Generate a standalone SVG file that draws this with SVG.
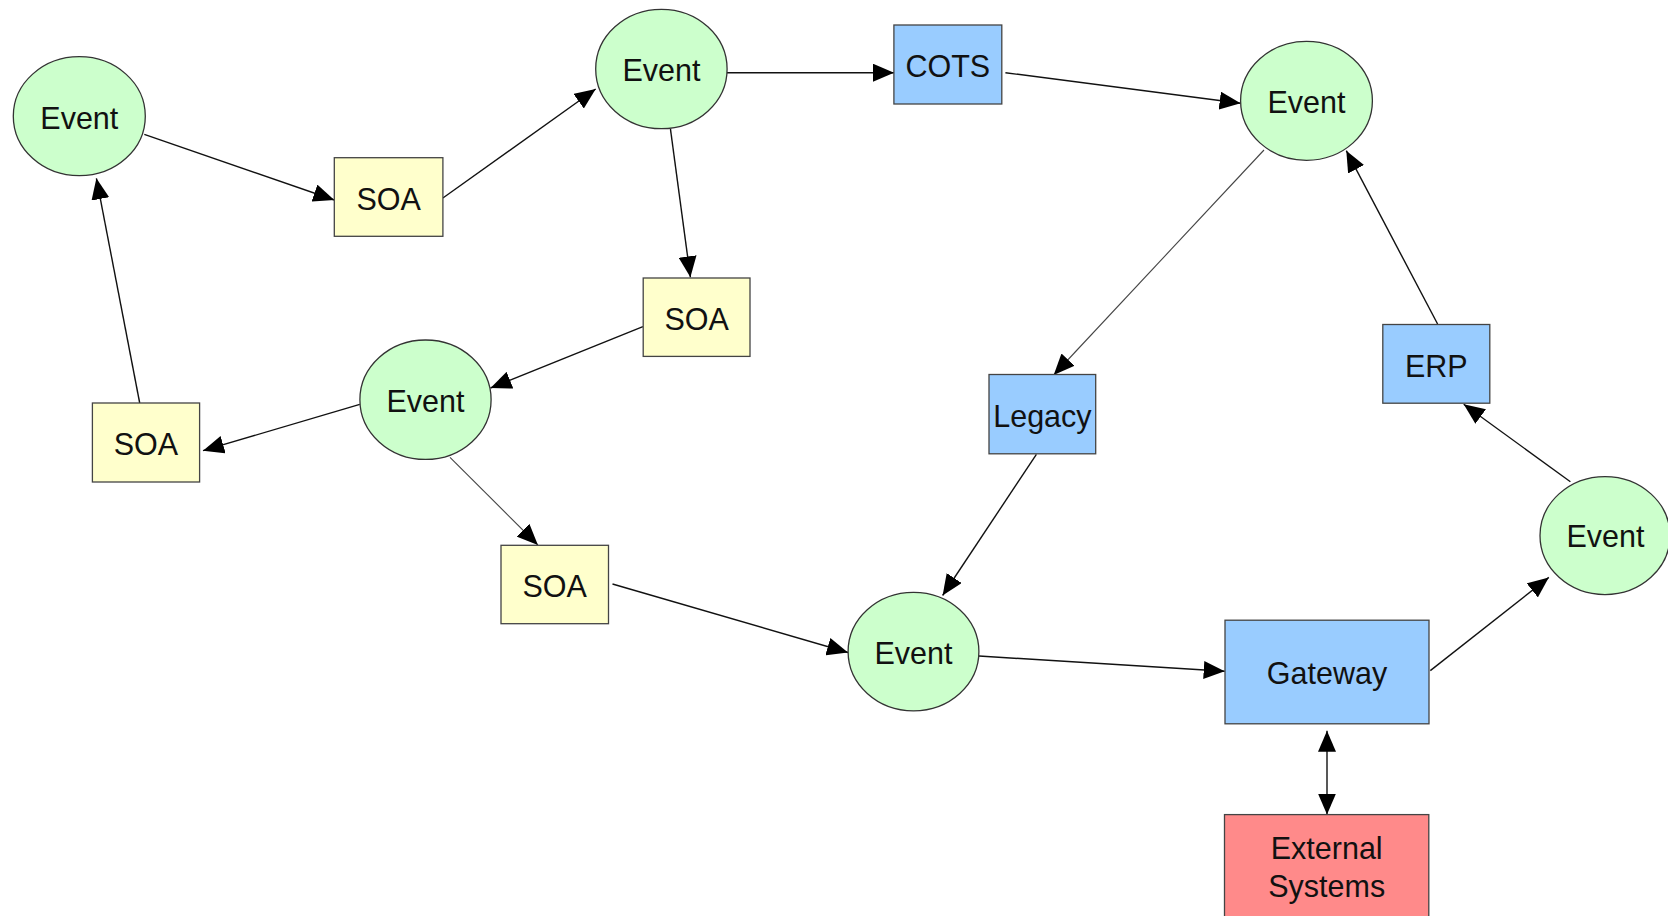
<svg xmlns="http://www.w3.org/2000/svg" width="1668" height="916" viewBox="0 0 1668 916">
<style>
.ev{fill:#ccffcc;stroke:#333;stroke-width:1.3}
.soa{fill:#ffffcc;stroke:#444;stroke-width:1.3}
.sys{fill:#99ccff;stroke:#444;stroke-width:1.3}
.ext{fill:#ff8a8a;stroke:#444;stroke-width:1.3}
text{font-family:"Liberation Sans",Arial,sans-serif;font-size:30.5px;fill:#111;text-anchor:middle}
.c line{stroke:#111;stroke-width:1.4;marker-end:url(#ah)}
.c line.thin{stroke:#444;stroke-width:1.1}
</style>
<defs>
<marker id="ah" markerUnits="userSpaceOnUse" markerWidth="21" markerHeight="18" refX="21" refY="9" orient="auto-start-reverse">
<path d="M0,0 L21,9 L0,18 z" fill="#000"/>
</marker>
</defs>
<rect width="1668" height="916" fill="#fff"/>
<g class="c" id="connectors">
<line x1="144.3" y1="134.3" x2="334.3" y2="200"/>
<line x1="442.9" y1="198" x2="595.7" y2="89"/>
<line x1="727" y1="72.7" x2="894" y2="72.7"/>
<line x1="1005.4" y1="72.7" x2="1240.6" y2="103.3"/>
<line x1="670.4" y1="128.7" x2="690.4" y2="277.3"/>
<line x1="642.9" y1="326.7" x2="490.5" y2="388"/>
<line x1="359.8" y1="404.3" x2="203" y2="450.7"/>
<line x1="139.7" y1="403" x2="96.4" y2="178.3"/>
<line class="thin" x1="450" y1="457.3" x2="537.9" y2="545"/>
<line x1="612.5" y1="584" x2="848" y2="652.5"/>
<line class="thin" x1="1264" y1="150" x2="1053.7" y2="375"/>
<line x1="1036.4" y1="454.3" x2="942.6" y2="595.5"/>
<line x1="979" y1="656" x2="1224.7" y2="671.3"/>
<line x1="1430.3" y1="670.6" x2="1548.8" y2="577.4"/>
<line x1="1570.4" y1="481.8" x2="1463.7" y2="404.2"/>
<line x1="1437.6" y1="324" x2="1346.3" y2="150.7"/>
<line x1="1327" y1="730.8" x2="1327" y2="814.6" marker-start="url(#ah)"/>
</g>
<g id="event1"><ellipse class="ev" cx="79.3" cy="116.2" rx="66" ry="59.5"/><text x="79.3" y="128.5">Event</text></g>
<g id="soa1"><rect class="soa" x="334.3" y="157.7" width="108.6" height="78.6"/><text x="388.6" y="209.5">SOA</text></g>
<g id="event2"><ellipse class="ev" cx="661.4" cy="69" rx="65.7" ry="59.7"/><text x="661.4" y="81.3">Event</text></g>
<g id="cots"><rect class="sys" x="893.9" y="25" width="107.9" height="79"/><text x="947.8" y="77.3">COTS</text></g>
<g id="event3"><ellipse class="ev" cx="1306.5" cy="100.8" rx="65.9" ry="59.5"/><text x="1306.5" y="113.3">Event</text></g>
<g id="soa3"><rect class="soa" x="643.2" y="278" width="106.8" height="78.4"/><text x="696.6" y="329.7">SOA</text></g>
<g id="erp"><rect class="sys" x="1382.8" y="324.5" width="107" height="78.7"/><text x="1436.3" y="376.7">ERP</text></g>
<g id="event4"><ellipse class="ev" cx="425.5" cy="399.7" rx="65.6" ry="59.7"/><text x="425.5" y="411.7">Event</text></g>
<g id="soa2"><rect class="soa" x="92.4" y="403" width="107.2" height="79"/><text x="146" y="455">SOA</text></g>
<g id="legacy"><rect class="sys" x="989" y="374.5" width="106.7" height="79.3"/><text x="1042.4" y="426.9">Legacy</text></g>
<g id="soa4"><rect class="soa" x="501" y="545.3" width="107.5" height="78.4"/><text x="554.7" y="596.7">SOA</text></g>
<g id="event5"><ellipse class="ev" cx="913.5" cy="651.6" rx="65.4" ry="59.3"/><text x="913.5" y="663.8">Event</text></g>
<g id="gateway"><rect class="sys" x="1225" y="620.2" width="204" height="103.6"/><text x="1327" y="684">Gateway</text></g>
<g id="event6"><ellipse class="ev" cx="1605" cy="535.6" rx="65" ry="59"/><text x="1605.5" y="546.7">Event</text></g>
<g id="external"><rect class="ext" x="1224.5" y="814.6" width="204.3" height="110"/><text x="1326.7" y="859">External</text><text x="1326.7" y="896.7">Systems</text></g>
</svg>
